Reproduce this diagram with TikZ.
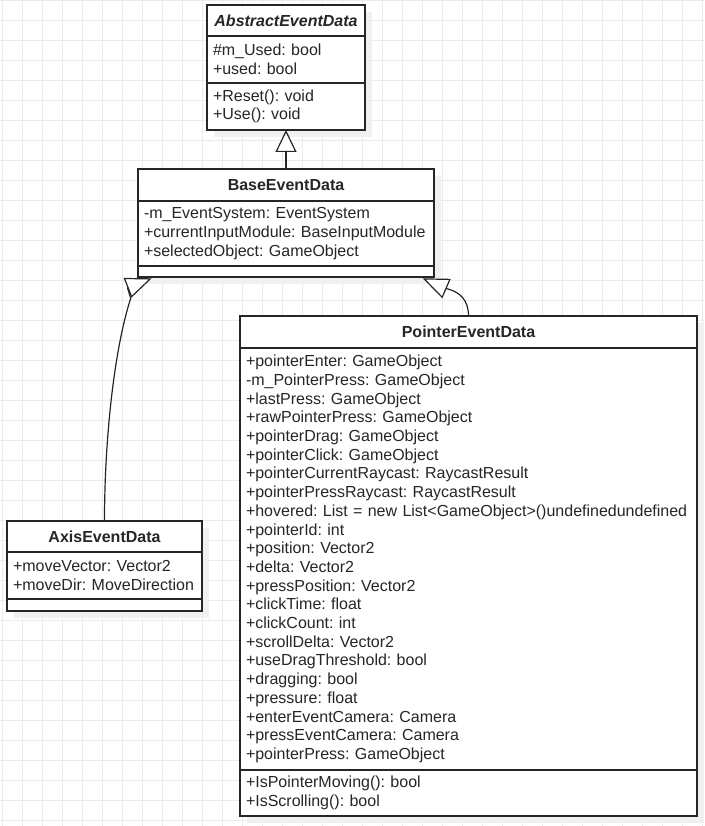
\documentclass[tikz,border=0pt]{standalone}
\usepackage{fontspec}
\setmainfont{Liberation Sans}
\usetikzlibrary{arrows.meta,shadows,calc}
\newcommand\umlsize{\fontsize{16pt}{18.7pt}\selectfont\frenchspacing\hyphenpenalty=10000 }
\tikzset{
  gridline/.style={draw=black!8,line width=1pt},
  umlbox/.style={draw=black!85,line width=1.3pt,fill=white,text=black!85,anchor=north west,outer sep=0pt,
    drop shadow={shadow xshift=7pt,shadow yshift=-7pt,fill=black!6,opacity=1}},
  classname/.style={umlbox,font=\umlsize\bfseries,inner sep=0pt},
  members/.style={umlbox,font=\umlsize,align=left,inner xsep=6pt,inner ysep=0pt},
  generalize/.style={draw=black!85,line width=1.2pt,-{Triangle[fill=white,length=#1,width=21pt]}},
  generalize/.default=26pt
}
\begin{document}
\begin{tikzpicture}[x=1pt,y=-1pt]
\useasboundingbox (0,0) rectangle (704,826);
\foreach \k in {0,...,35} \draw[gridline] ({2.3+20*\k},0) -- ({2.3+20*\k},826);
\foreach \k in {0,...,41} \draw[gridline] (0,{0.7+20*\k}) -- (704,{0.7+20*\k});

\node[classname,minimum width=158pt,minimum height=31pt] (abstract) at (207,5) {\textit{AbstractEventData}};
\node[members,text width=146pt,minimum height=47pt] (abstractattr) at (abstract.south west) {\#m\_Used: bool\\+used: bool};
\node[members,text width=146pt,minimum height=47pt] (abstractops) at (abstractattr.south west) {+Reset(): void\\+Use(): void};

\node[classname,minimum width=296pt,minimum height=32pt] (base) at (138,169) {BaseEventData};
\node[members,text width=284pt,minimum height=65pt] (baseattr) at (base.south west) {-m\_EventSystem: EventSystem\\+currentInputModule: BaseInputModule\\+selectedObject: GameObject};
\node[members,text width=284pt,minimum height=11pt] (baseops) at (baseattr.south west) {};

\node[classname,minimum width=195pt,minimum height=31pt] (axis) at (7,521) {AxisEventData};
\node[members,text width=183pt,minimum height=47pt] (axisattr) at (axis.south west) {+moveVector: Vector2\\+moveDir: MoveDirection};
\node[members,text width=183pt,minimum height=12pt] (axisops) at (axisattr.south west) {};

\node[classname,minimum width=457pt,minimum height=32pt] (pointer) at (240,316) {PointerEventData};
\node[members,text width=445pt,minimum height=422pt] (pointerattr) at (pointer.south west) {+pointerEnter: GameObject\\-m\_PointerPress: GameObject\\+lastPress: GameObject\\+rawPointerPress: GameObject\\+pointerDrag: GameObject\\+pointerClick: GameObject\\+pointerCurrentRaycast: RaycastResult\\+pointerPressRaycast: RaycastResult\\+hovered: List = new List<GameObject>()undefinedundefined\\+pointerId: int\\+position: Vector2\\+delta: Vector2\\+pressPosition: Vector2\\+clickTime: float\\+clickCount: int\\+scrollDelta: Vector2\\+useDragThreshold: bool\\+dragging: bool\\+pressure: float\\+enterEventCamera: Camera\\+pressEventCamera: Camera\\+pointerPress: GameObject};
\node[members,text width=445pt,minimum height=46pt] (pointerops) at (pointerattr.south west) {+IsPointerMoving(): bool\\+IsScrolling(): bool};

\coordinate (tipL) at ($(baseops.south west)+(13.7,1.3)$);
\coordinate (midL) at ($(tipL)+(-24.2,9.5)$);
\coordinate (bendL) at ($(tipL)+(-21,20)$);
\coordinate (tipR) at ($(baseops.south east)+(-11.3,1.3)$);
\coordinate (midR) at ($(tipR)+(23.9,10.3)$);

\draw[generalize=22pt] (base.north) -- (abstractops.south);
\draw[generalize] (axis.north) .. controls (104.5,440) and (114,350) .. (bendL) -- (midL) -- (tipL);
\draw[generalize] (pointer.north) .. controls (468.5,300) and (460,292) .. (midR) -- (tipR);
\end{tikzpicture}
\end{document}
